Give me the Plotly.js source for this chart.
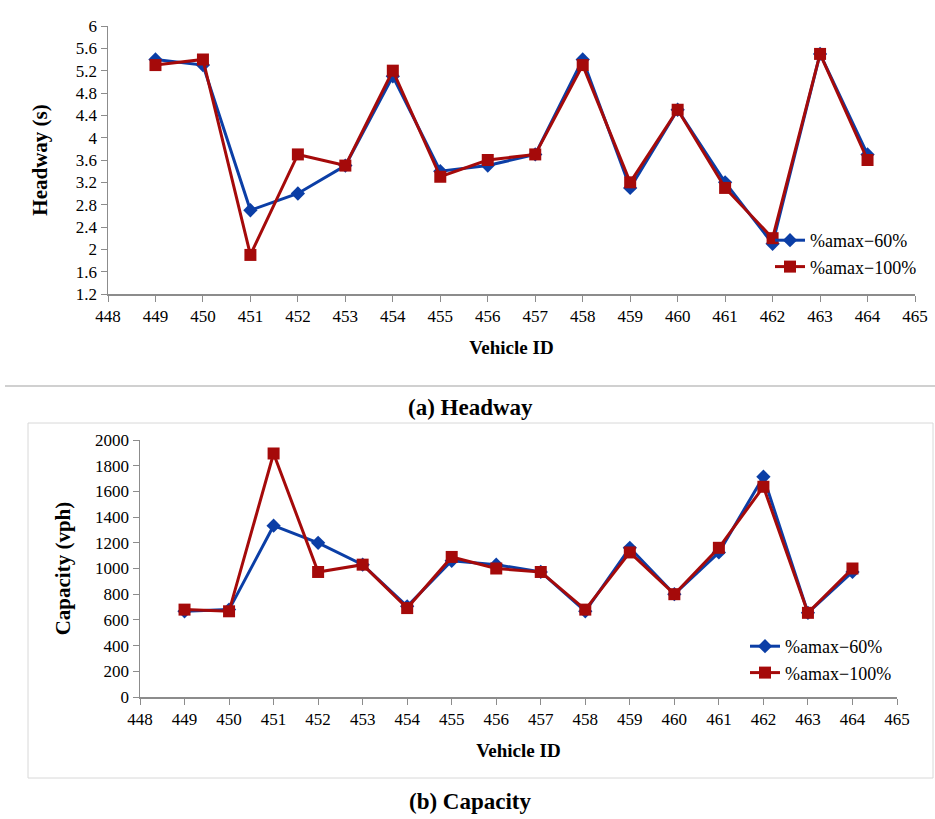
<!DOCTYPE html>
<html>
<head>
<meta charset="utf-8">
<script src="https://cdn.plot.ly/plotly-3.0.1.min.js"></script>
<style>html,body{margin:0;padding:0;background:#fff;}#chart{width:935px;height:819px;}</style>
</head>
<body>
<div id="chart"></div>
<script>
var vehicleIds = [449,450,451,452,453,454,455,456,457,458,459,460,461,462,463,464];
var headway60  = [5.4,5.3,2.7,3.0,3.5,5.1,3.4,3.5,3.7,5.4,3.1,4.5,3.2,2.1,5.5,3.7];
var headway100 = [5.3,5.4,1.9,3.7,3.5,5.2,3.3,3.6,3.7,5.3,3.2,4.5,3.1,2.2,5.5,3.6];
var capacity60  = [667,680,1333,1200,1030,706,1060,1030,973,667,1161,800,1125,1714,655,973];
var capacity100 = [680,667,1895,973,1030,692,1090,1000,973,680,1125,800,1161,1636,655,1000];
var seriesNames = ['%amax\u221260%','%amax\u2212100%'];

var blue = '#0b3ea6', red = '#a50a0a';
var serif = "Times New Roman";

function tr(x,y,name,color,symbol,size,xa,ya,leg){
  return {x:x,y:y,name:name,type:'scatter',mode:'lines+markers',
    line:{color:color,width:3},marker:{color:color,symbol:symbol,size:size},
    xaxis:xa,yaxis:ya,legend:leg};
}
var data = [
  tr(vehicleIds,headway60,seriesNames[0],blue,'diamond',11,'x','y','legend'),
  tr(vehicleIds,headway100,seriesNames[1],red,'square',12,'x','y','legend'),
  tr(vehicleIds,capacity60,seriesNames[0],blue,'diamond',11,'x2','y2','legend2'),
  tr(vehicleIds,capacity100,seriesNames[1],red,'square',12,'x2','y2','legend2')
];

var axCommon = {showgrid:false,zeroline:false,showline:true,linecolor:'#8c8c8c',linewidth:1.5,
  ticks:'outside',ticklen:6,tickcolor:'#8c8c8c',tickfont:{family:serif,size:17,color:'#000'}};

function ax(o){ var r={}; for(var k in axCommon) r[k]=axCommon[k]; for(var k in o) r[k]=o[k]; return r; }

var layout = {
  width:935,height:819,margin:{l:0,r:0,t:0,b:0},
  font:{family:serif},
  paper_bgcolor:'#fff',plot_bgcolor:'#fff',showlegend:true,
  xaxis: ax({domain:[108/935,915/935],anchor:'y',range:[448,465],dtick:1,tick0:448,
    title:{text:'Vehicle ID',font:{family:serif,size:19,color:'#000',weight:'bold'},standoff:16}}),
  yaxis: ax({domain:[1-294/819,1-26/819],anchor:'x',range:[1.2,6],dtick:0.4,tick0:1.2,
    title:{text:'Headway (s)',font:{family:serif,size:21,color:'#000',weight:'bold'},standoff:22}}),
  xaxis2: ax({domain:[140/935,897/935],anchor:'y2',range:[448,465],dtick:1,tick0:448,
    title:{text:'Vehicle ID',font:{family:serif,size:19,color:'#000',weight:'bold'},standoff:16}}),
  yaxis2: ax({domain:[1-697/819,1-440/819],anchor:'x2',range:[0,2000],dtick:200,
    title:{text:'Capacity (vph)',font:{family:serif,size:21,color:'#000',weight:'bold'},standoff:18}}),
  legend:{x:770/935,y:1-222/819,xanchor:'left',yanchor:'top',bgcolor:'rgba(0,0,0,0)',
    font:{family:serif,size:18,color:'#000'},tracegroupgap:0,itemwidth:30},
  legend2:{x:745/935,y:1-628/819,xanchor:'left',yanchor:'top',bgcolor:'rgba(0,0,0,0)',
    font:{family:serif,size:18,color:'#000'},tracegroupgap:0,itemwidth:30},
  shapes:[
    {type:'line',xref:'paper',yref:'paper',x0:5/935,x1:1,y0:1-386/819,y1:1-386/819,line:{color:'#d0d0d0',width:2}},
    {type:'rect',xref:'paper',yref:'paper',x0:28/935,x1:933/935,y0:1-778/819,y1:1-423/819,line:{color:'#d8d8d8',width:1}}
  ],
  annotations:[
    {text:'(a) Headway',xref:'paper',yref:'paper',x:470/935,y:1-407/819,xanchor:'center',yanchor:'middle',showarrow:false,
      font:{family:serif,size:23,color:'#000',weight:'bold'}},
    {text:'(b) Capacity',xref:'paper',yref:'paper',x:470/935,y:1-801/819,xanchor:'center',yanchor:'middle',showarrow:false,
      font:{family:serif,size:23,color:'#000',weight:'bold'}}
  ]
};
Plotly.newPlot('chart',data,layout,{displayModeBar:false,staticPlot:true});
</script>
</body>
</html>
